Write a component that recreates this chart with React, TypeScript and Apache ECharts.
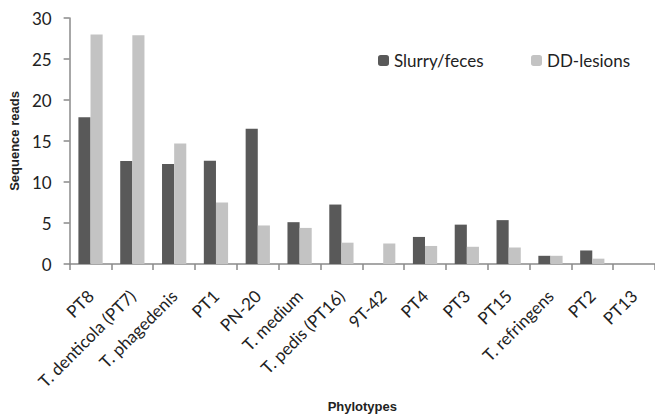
import React, { useEffect, useRef } from "react";
import * as echarts from "echarts";

const categories = [
  "PT8",
  "T. denticola (PT7)",
  "T. phagedenis",
  "PT1",
  "PN-20",
  "T. medium",
  "T. pedis (PT16)",
  "9T-42",
  "PT4",
  "PT3",
  "PT15",
  "T. refringens",
  "PT2",
  "PT13",
];
const slurry = [17.9, 12.55, 12.2, 12.6, 16.5, 5.1, 7.25, 0, 3.3, 4.8, 5.35, 1.0, 1.65, 0];
const lesions = [28.0, 27.9, 14.7, 7.5, 4.7, 4.4, 2.6, 2.5, 2.2, 2.1, 2.0, 1.0, 0.65, 0];

const FONT = "Lato";

export default function App() {
  const ref = useRef<HTMLDivElement>(null);
  useEffect(() => {
    if (!ref.current) return;
    const chart = echarts.init(ref.current, undefined, { renderer: "svg" });
    chart.setOption({
      animation: false,
      backgroundColor: "#ffffff",
      textStyle: { fontFamily: FONT },
      legend: [
        {
          data: ["Slurry/feces"],
          left: 373,
          top: 47,
          itemWidth: 11,
          itemHeight: 11,
          itemGap: 4,
          textStyle: { fontFamily: FONT, fontSize: 17, color: "#222" },
        },
        {
          data: ["DD-lesions"],
          left: 526,
          top: 47,
          itemWidth: 11,
          itemHeight: 11,
          itemGap: 4,
          textStyle: { fontFamily: FONT, fontSize: 17, color: "#222" },
        },
      ],
      grid: { left: 66, right: 0, top: 18, bottom: 153, containLabel: false },
      xAxis: {
        type: "category",
        data: categories,
        name: "Phylotypes",
        nameLocation: "middle",
        nameGap: 136,
        nameTextStyle: {
          fontFamily: "Liberation Sans",
          fontWeight: "bold",
          fontSize: 13,
          color: "#222",
        },
        axisLine: { lineStyle: { color: "#8a8a8a", width: 1.5 } },
        axisTick: { show: true, length: 6, lineStyle: { color: "#8a8a8a", width: 1.5 } },
        axisLabel: {
          rotate: 45,
          interval: 0,
          hideOverlap: false,
          fontFamily: FONT,
          fontSize: 17,
          color: "#222",
          margin: 29,
        },
      },
      yAxis: {
        type: "value",
        min: 0,
        max: 30,
        interval: 5,
        name: "Sequence reads",
        nameLocation: "middle",
        nameGap: 46,
        nameTextStyle: {
          fontFamily: "Liberation Sans",
          fontWeight: "bold",
          fontSize: 13,
          color: "#222",
        },
        axisLine: { show: true, lineStyle: { color: "#8a8a8a", width: 1.5 } },
        axisTick: { show: true, length: 6, lineStyle: { color: "#8a8a8a", width: 1.5 } },
        splitLine: { show: false },
        axisLabel: { fontFamily: FONT, fontSize: 17, color: "#222", margin: 18 },
      },
      series: [
        {
          name: "Slurry/feces",
          type: "bar",
          data: slurry,
          barGap: "0%",
          barCategoryGap: "42%",
          itemStyle: { color: "#595959" },
        },
        {
          name: "DD-lesions",
          type: "bar",
          data: lesions,
          itemStyle: { color: "#c3c3c3" },
        },
      ],
    });
    return () => chart.dispose();
  }, []);
  return <div ref={ref} style={{ width: 655, height: 418, position: "absolute", left: 0, top: 0 }} />;
}
